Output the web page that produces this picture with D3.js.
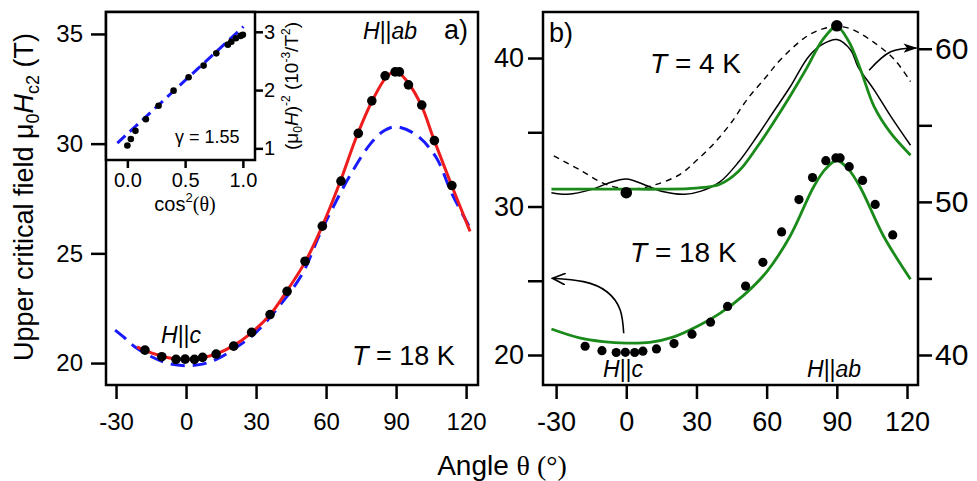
<!DOCTYPE html>
<html>
<head>
<meta charset="utf-8">
<script src="https://cdn.jsdelivr.net/npm/d3@7"></script>
<style>
body { margin: 0; background: #fff; }
svg { display: block; font-family: "Liberation Sans", Arial, sans-serif; }
</style>
</head>
<body>
<svg id="chart" width="977" height="481"></svg>
<script>
// measured Hc2 at T = 18 K (both panels)
const dotAngle = [-17.6, -10.4, -4.3, -0.4, 3.6, 7.1, 12.9, 20.4, 28.1, 36, 43.3, 51, 58.4, 66.4, 73.8, 79.6, 85.3, 89.6, 91.4, 95.3, 101, 106.4, 113.9];
const dotField = [20.59, 20.29, 20.17, 20.18, 20.17, 20.26, 20.41, 20.77, 21.4, 22.21, 23.27, 24.64, 26.24, 28.29, 30.47, 31.95, 33.09, 33.27, 33.27, 32.68, 31.76, 30.14, 28.09];

// panel a: red fit and blue dashed model
const redAngle = [-21, -18, -10, -4, 0, 4, 7, 13, 20, 28, 36, 43, 51, 58, 66, 73, 80, 86, 90, 95, 101, 106, 114, 121.7];
const redField = [20.74, 20.59, 20.3, 20.18, 20.16, 20.17, 20.24, 20.42, 20.77, 21.38, 22.2, 23.25, 24.6, 26.15, 28.25, 30.3, 32.0, 33.05, 33.3, 32.8, 31.7, 30.25, 28.05, 26.0];
const blueAngle = [-30.4, -26, -22, -15, -8, 0, 7, 13, 20, 30, 40, 50, 57, 63, 70, 79, 85, 90, 98.6, 107, 114, 121.5];
const blueField = [21.5, 21.12, 20.74, 20.3, 19.99, 19.88, 19.95, 20.17, 20.6, 21.4, 22.6, 24.1, 25.8, 27.1, 28.5, 29.99, 30.6, 30.77, 30.4, 29.4, 27.7, 26.2];

// inset: 1/(mu0 H)^2 vs cos^2(theta)
const insetCos = [0.0, 0.03, 0.07, 0.16, 0.27, 0.40, 0.53, 0.66, 0.77, 0.87, 0.90, 0.94, 0.98, 1.0];
const insetInv = [1.05, 1.16, 1.30, 1.50, 1.73, 1.99, 2.22, 2.42, 2.63, 2.78, 2.83, 2.89, 2.93, 2.95];
const insetLineCos = [-0.087, 1.005];
const insetLineInv = [1.09, 3.09];

// panel b: 18 K fit (left axis)
const g18Angle = [-32, -20, -10, 0, 10, 20, 30, 40, 50, 60, 70, 80, 85, 90, 95, 100, 110, 121.5];
const g18Field = [21.75, 21.15, 20.9, 20.8, 20.85, 21.2, 21.9, 22.8, 24.0, 25.6, 28.0, 31.3, 32.5, 33.1, 32.5, 31.3, 28.0, 25.1];
// panel b: 4 K curves (right axis)
const g4Angle = [-32, -15, 0, 15, 30, 40, 48, 56, 63, 70, 77, 84, 90, 95, 100, 106, 113, 121.5];
const g4Field = [50.83, 50.83, 50.83, 50.83, 50.9, 51.15, 52.0, 53.6, 55.2, 56.9, 58.7, 60.6, 61.45, 60.5, 58.7, 56.2, 54.5, 53.05];
const k4Angle = [-32, -25, -15, -8, 0, 8, 15, 25, 32, 40, 48, 56, 63, 70, 78, 84, 90, 96, 99, 106, 113, 121.5];
const k4Field = [50.6, 50.5, 50.8, 51.2, 51.5, 51.1, 50.7, 50.5, 50.7, 51.3, 52.6, 54.3, 55.9, 57.5, 59.5, 60.3, 60.6, 59.9, 58.84, 57.3, 55.6, 53.7];
const d4Angle = [-31, -20, -8, 3, 12, 23, 30, 37.4, 45, 51.7, 60, 66, 77, 84, 90, 96, 106, 114.6, 121.5];
const d4Field = [53.0, 52.1, 51.1, 50.85, 51.1, 51.8, 52.7, 53.8, 55.2, 56.7, 58.2, 59.3, 60.8, 61.3, 61.45, 61.3, 60.4, 59.3, 57.86];
const dot4Angle = [0, 90];
const dot4Field = [50.6, 61.5];

// tick values
const angleTicks = [-30, 0, 30, 60, 90, 120];
const fieldTicksA = [20, 25, 30, 35];
const fieldTicksB = [20, 25, 30, 35, 40];
const fieldTicksR = [40, 45, 50, 55, 60];
const insetXTicks = [0, 0.5, 1];
const insetYTicks = [1, 2, 3];

// arrows in panel b (data units)
const arrowRightAngle = [103.8, 113, 124];
const arrowRightField = [58.6, 59.8, 60.05];
const arrowLeftAngle = [-1.1, -2.6, -8.3, -18.3, -31.5];
const arrowLeftField = [21.46, 23.03, 24.26, 24.94, 25.17];

const svg = d3.select('#chart');
svg.append('rect').attr('width', 977).attr('height', 481).attr('fill', '#fff');

// scales
const xa = d3.scaleLinear().domain([-34.3, 125.1]).range([106, 478]);
const ya = d3.scaleLinear().domain([19, 36]).range([385, 12]);
const xb = d3.scaleLinear().domain([-35.6, 124.7]).range([543, 918]);
const ybL = d3.scaleLinear().domain([17.98, 43.1]).range([385, 12]);
const ybR = d3.scaleLinear().domain([38.04, 62.4]).range([385, 12]);
const xi = d3.scaleLinear().domain([-0.185, 1.105]).range([106, 255]);
const yi = d3.scaleLinear().domain([0.8, 3.34]).range([160, 12]);

const plain = d => String(d); // hyphen minus like the original

function styleAxis(g, size) {
    g.select('.domain').remove();
    g.selectAll('.tick line').attr('stroke', '#000').attr('stroke-width', 2.5);
    g.selectAll('.tick text').attr('fill', '#000').attr('font-size', size)
        .attr('font-family', '"Liberation Sans", Arial, sans-serif');
}

function line(x, y, curve) {
    return d3.line().x(d => x(d[0])).y(d => y(d[1])).curve(curve || d3.curveCatmullRom.alpha(0.5));
}

// ---------- panel a ----------
svg.append('g').attr('transform', 'translate(0,386)')
    .call(d3.axisBottom(xa).tickValues(angleTicks).tickFormat(plain).tickSize(13).tickPadding(14))
    .call(styleAxis, 24);
svg.append('g').attr('transform', 'translate(105,0)')
    .call(d3.axisLeft(ya).tickValues(fieldTicksA).tickFormat(plain).tickSize(14).tickPadding(8))
    .call(styleAxis, 24);

svg.append('path').datum(d3.zip(blueAngle, blueField))
    .attr('d', line(xa, ya)).attr('fill', 'none')
    .attr('stroke', '#1a1aff').attr('stroke-width', 3).attr('stroke-dasharray', '14,8');
svg.append('path').datum(d3.zip(redAngle, redField))
    .attr('d', line(xa, ya)).attr('fill', 'none')
    .attr('stroke', '#ee1c1c').attr('stroke-width', 3);
svg.append('g').selectAll('circle').data(d3.zip(dotAngle, dotField)).join('circle')
    .attr('cx', d => xa(d[0])).attr('cy', d => ya(d[1])).attr('r', 4.8).attr('fill', '#000');

svg.append('rect').attr('x', 106).attr('y', 12).attr('width', 372).attr('height', 373)
    .attr('fill', 'none').attr('stroke', '#000').attr('stroke-width', 2.5);

// panel a labels
const ta = svg.append('g').attr('fill', '#000');
let t = ta.append('text').attr('x', 363).attr('y', 39).attr('font-size', 23);
t.append('tspan').attr('font-style', 'italic').text('H');
t.append('tspan').text('||');
t.append('tspan').attr('font-style', 'italic').text('ab');
ta.append('text').attr('x', 444).attr('y', 39).attr('font-size', 27).text('a)');
t = ta.append('text').attr('x', 161).attr('y', 343).attr('font-size', 23);
t.append('tspan').attr('font-style', 'italic').text('H');
t.append('tspan').text('||');
t.append('tspan').attr('font-style', 'italic').text('c');
t = ta.append('text').attr('x', 352).attr('y', 365).attr('font-size', 27);
t.append('tspan').attr('font-style', 'italic').text('T');
t.append('tspan').text(' = 18 K');

// y label
t = svg.append('text').attr('transform', 'translate(33,197) rotate(-90)')
    .attr('text-anchor', 'middle').attr('font-size', 27).attr('fill', '#000');
t.append('tspan').text('Upper critical field μ');
t.append('tspan').attr('font-size', 18).attr('dy', 6).text('0');
t.append('tspan').attr('font-style', 'italic').attr('dy', -6).text('H');
t.append('tspan').attr('font-size', 18).attr('dy', 6).text('c2');
t.append('tspan').attr('dy', -6).text(' (T)');

// ---------- inset ----------
svg.append('rect').attr('x', 106).attr('y', 12).attr('width', 149).attr('height', 148).attr('fill', '#fff');
svg.append('g').attr('transform', 'translate(0,161)')
    .call(d3.axisBottom(xi).tickValues(insetXTicks).tickSize(7).tickFormat(d3.format('.1f')).tickPadding(5))
    .call(styleAxis, 20);
svg.append('g').attr('transform', 'translate(256,0)')
    .call(d3.axisRight(yi).tickValues(insetYTicks).tickFormat(plain).tickSize(7).tickPadding(1))
    .call(styleAxis, 20);
svg.append('path').datum(d3.zip(insetLineCos, insetLineInv))
    .attr('d', line(xi, yi, d3.curveLinear)).attr('fill', 'none')
    .attr('stroke', '#1a1aff').attr('stroke-width', 3).attr('stroke-dasharray', '11,6');
svg.append('g').selectAll('circle').data(d3.zip(insetCos, insetInv)).join('circle')
    .attr('cx', d => xi(d[0])).attr('cy', d => yi(d[1])).attr('r', 3.3).attr('fill', '#000');
svg.append('rect').attr('x', 106).attr('y', 12).attr('width', 149).attr('height', 148)
    .attr('fill', 'none').attr('stroke', '#000').attr('stroke-width', 2.5);
t = svg.append('text').attr('x', 175).attr('y', 143).attr('font-size', 18).attr('fill', '#000');
t.append('tspan').text('γ = 1.55');
t = svg.append('text').attr('x', 185).attr('y', 211).attr('text-anchor', 'middle').attr('font-size', 20).attr('fill', '#000');
t.append('tspan').text('cos');
t.append('tspan').attr('font-size', 13).attr('dy', -9).text('2');
t.append('tspan').attr('dy', 9).attr('font-family', '"Liberation Serif", serif').text('(θ)');
t = svg.append('text').attr('transform', 'translate(298,86) rotate(-90)')
    .attr('text-anchor', 'middle').attr('font-size', 19).attr('fill', '#000');
t.append('tspan').text('(μ');
t.append('tspan').attr('font-size', 12).attr('dy', 4).text('0');
t.append('tspan').attr('font-style', 'italic').attr('dy', -4).text('H');
t.append('tspan').text(')');
t.append('tspan').attr('font-size', 12).attr('dy', -8).text('-2');
t.append('tspan').attr('dy', 8).text(' (10');
t.append('tspan').attr('font-size', 12).attr('dy', -8).text('-3');
t.append('tspan').attr('dy', 8).text('/T');
t.append('tspan').attr('font-size', 12).attr('dy', -8).text('2');
t.append('tspan').attr('dy', 8).text(')');

// ---------- panel b ----------
svg.append('g').attr('transform', 'translate(0,386)')
    .call(d3.axisBottom(xb).tickValues(angleTicks).tickFormat(plain).tickSize(13).tickPadding(13))
    .call(styleAxis, 27);
svg.append('g').attr('transform', 'translate(542,0)')
    .call(d3.axisLeft(ybL).tickValues(fieldTicksB).tickSize(14).tickPadding(4)
        .tickFormat(d => (d % 10 === 0 ? d : '')))
    .call(styleAxis, 27);
svg.append('g').attr('transform', 'translate(919,0)')
    .call(d3.axisRight(ybR).tickValues(fieldTicksR).tickSize(13).tickPadding(3)
        .tickFormat(d => (d % 10 === 0 ? d : '')))
    .call(styleAxis, 30);

svg.append('path').datum(d3.zip(d4Angle, d4Field))
    .attr('d', line(xb, ybR)).attr('fill', 'none')
    .attr('stroke', '#000').attr('stroke-width', 1.4).attr('stroke-dasharray', '6,5');
svg.append('path').datum(d3.zip(k4Angle, k4Field))
    .attr('d', line(xb, ybR)).attr('fill', 'none')
    .attr('stroke', '#000').attr('stroke-width', 1.5);
svg.append('path').datum(d3.zip(g4Angle, g4Field))
    .attr('d', line(xb, ybR)).attr('fill', 'none')
    .attr('stroke', '#1a8a1a').attr('stroke-width', 2.8);
svg.append('path').datum(d3.zip(g18Angle, g18Field))
    .attr('d', line(xb, ybL)).attr('fill', 'none')
    .attr('stroke', '#1a8a1a').attr('stroke-width', 2.8);
svg.append('g').selectAll('circle').data(d3.zip(dotAngle, dotField)).join('circle')
    .attr('cx', d => xb(d[0])).attr('cy', d => ybL(d[1])).attr('r', 4.6).attr('fill', '#000');
svg.append('g').selectAll('circle').data(d3.zip(dot4Angle, dot4Field)).join('circle')
    .attr('cx', d => xb(d[0])).attr('cy', d => ybR(d[1])).attr('r', 5.8).attr('fill', '#000');

// arrows
const defs = svg.append('defs');
defs.append('marker').attr('id', 'headFill').attr('viewBox', '0 0 12 8').attr('refX', 11).attr('refY', 4)
    .attr('markerWidth', 14).attr('markerHeight', 10).attr('markerUnits', 'userSpaceOnUse').attr('orient', 'auto')
    .append('path').attr('d', 'M0,0 L12,4 L0,8 L3,4 Z').attr('fill', '#000');
defs.append('marker').attr('id', 'headOpen').attr('viewBox', '0 0 12 10').attr('refX', 11).attr('refY', 5)
    .attr('markerWidth', 14).attr('markerHeight', 12).attr('markerUnits', 'userSpaceOnUse').attr('orient', 'auto')
    .append('path').attr('d', 'M0,0 L11,5 L0,10').attr('fill', 'none').attr('stroke', '#000').attr('stroke-width', 1.5);
svg.append('path').datum(d3.zip(arrowRightAngle, arrowRightField))
    .attr('d', line(xb, ybR, d3.curveNatural)).attr('fill', 'none').attr('stroke', '#000')
    .attr('stroke-width', 1.6).attr('marker-end', 'url(#headFill)');
svg.append('path').datum(d3.zip(arrowLeftAngle, arrowLeftField))
    .attr('d', line(xb, ybL, d3.curveNatural)).attr('fill', 'none').attr('stroke', '#000')
    .attr('stroke-width', 1.6).attr('marker-end', 'url(#headOpen)');

svg.append('rect').attr('x', 543).attr('y', 12).attr('width', 375).attr('height', 373)
    .attr('fill', 'none').attr('stroke', '#000').attr('stroke-width', 2.5);

// panel b labels
const tb = svg.append('g').attr('fill', '#000');
tb.append('text').attr('x', 549).attr('y', 42).attr('font-size', 27).text('b)');
t = tb.append('text').attr('x', 650).attr('y', 73).attr('font-size', 28);
t.append('tspan').attr('font-style', 'italic').text('T');
t.append('tspan').text(' = 4 K');
t = tb.append('text').attr('x', 630).attr('y', 262).attr('font-size', 28);
t.append('tspan').attr('font-style', 'italic').text('T');
t.append('tspan').text(' = 18 K');
t = tb.append('text').attr('x', 603).attr('y', 377).attr('font-size', 23);
t.append('tspan').attr('font-style', 'italic').text('H');
t.append('tspan').text('||');
t.append('tspan').attr('font-style', 'italic').text('c');
t = tb.append('text').attr('x', 807).attr('y', 377).attr('font-size', 23);
t.append('tspan').attr('font-style', 'italic').text('H');
t.append('tspan').text('||');
t.append('tspan').attr('font-style', 'italic').text('ab');

// shared x label
t = svg.append('text').attr('x', 502).attr('y', 475).attr('text-anchor', 'middle')
    .attr('font-size', 28).attr('fill', '#000');
t.append('tspan').text('Angle ');
t.append('tspan').attr('font-family', '"Liberation Serif", serif').text('θ (°)');
</script>
</body>
</html>
